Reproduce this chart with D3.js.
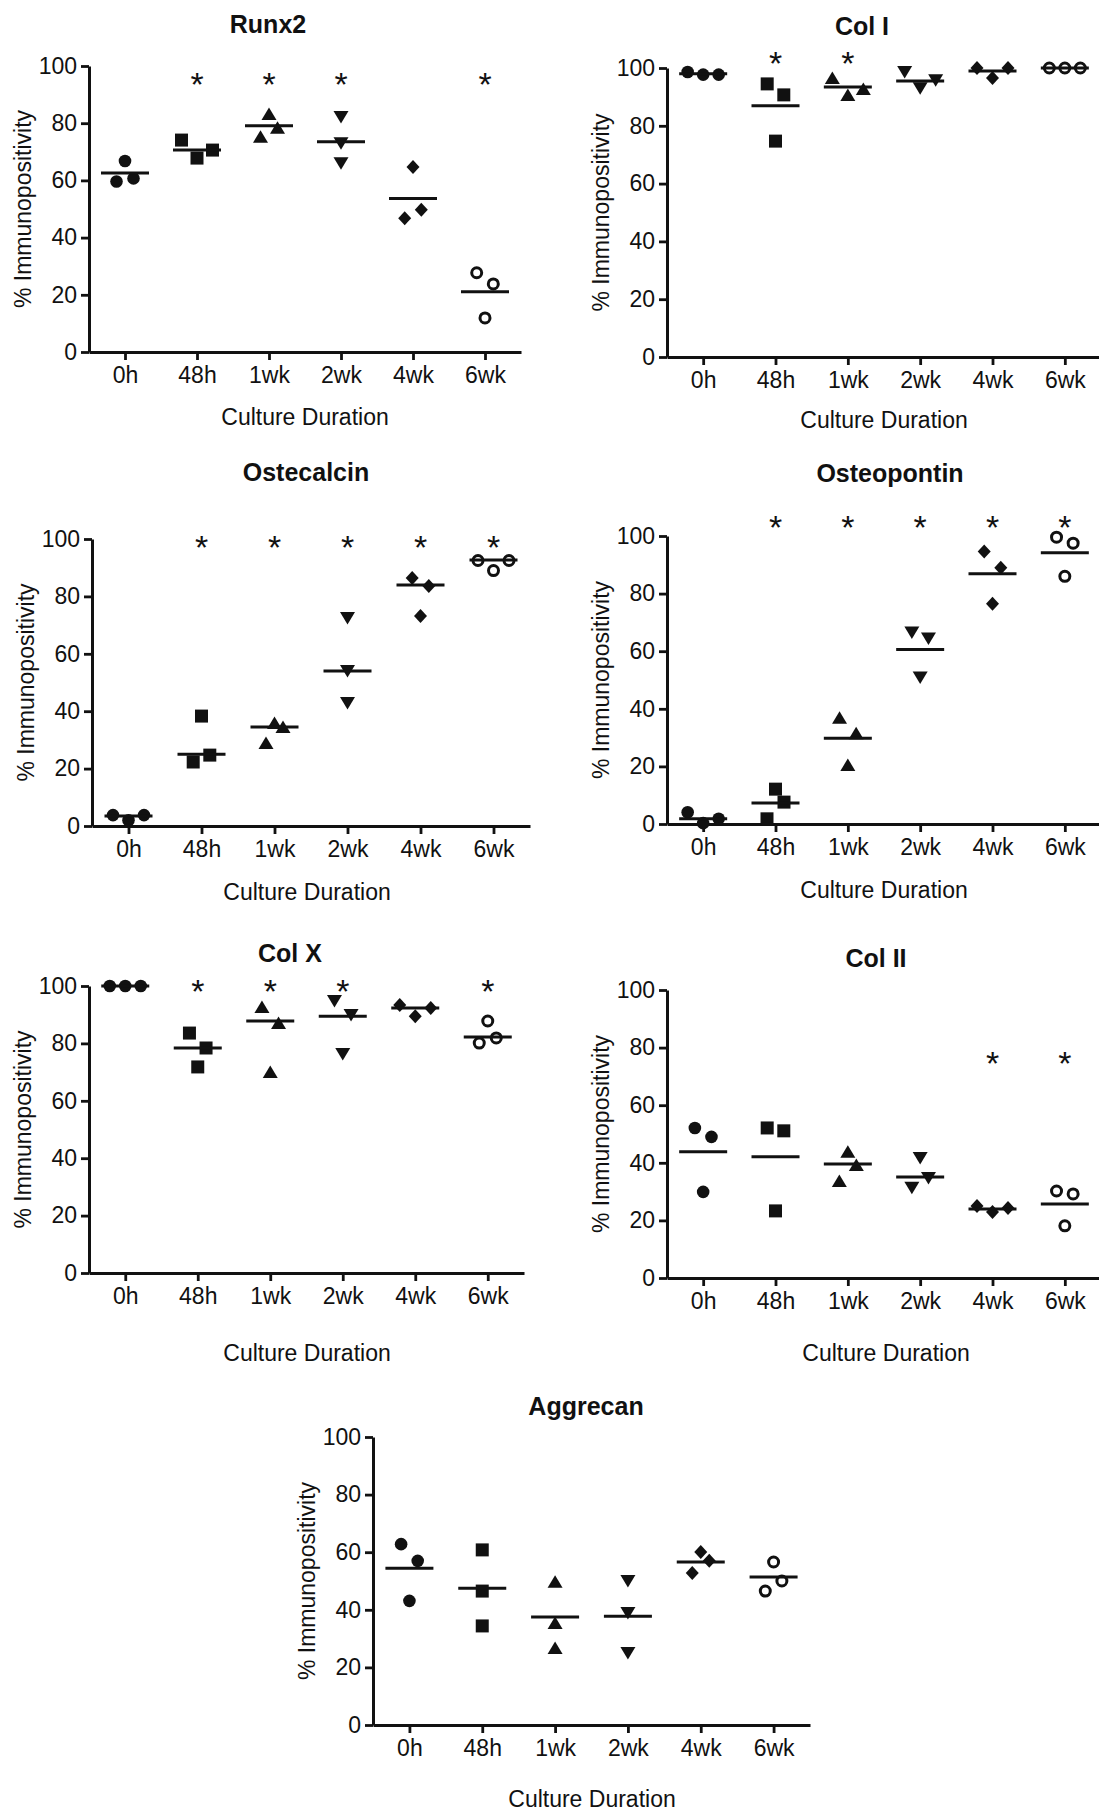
<!DOCTYPE html>
<html>
<head>
<meta charset="utf-8">
<script src="https://cdn.jsdelivr.net/npm/d3@7"></script>
<style>
  body { margin: 0; background: #fff; }
  svg text { font-family: "Liberation Sans", Arial, sans-serif; fill: #111; }
</style>
</head>
<body>
<script>
// categories and axis ticks
var groups = ["0h", "48h", "1wk", "2wk", "4wk", "6wk"];
var yTicks = [0, 20, 40, 60, 80, 100];

// values per group (three replicates each, listed left to right), line = group mean line
var runx2Values = [[59.6, 66.8, 60.7], [74.1, 67.8, 70.6], [75.3, 83.2, 78.4], [82.2, 73.0, 66.0], [46.8, 64.7, 49.7], [27.7, 11.9, 23.8]];
var runx2Lines = [62.6, 70.6, 79.1, 73.5, 53.7, 21.1];
var runx2Stars = [0, 1, 1, 1, 0, 1];

var col1Values = [[98.6, 97.7, 97.7], [94.5, 74.7, 90.7], [96.5, 90.7, 92.7], [98.6, 93.0, 95.8], [100, 96.5, 100], [100, 100, 100]];
var col1Lines = [98.0, 86.9, 93.4, 95.5, 99.0, 100];
var col1Stars = [0, 1, 1, 0, 0, 0];

var ostecalcinValues = [[3.8, 2.0, 3.8], [22.3, 38.3, 24.7], [28.9, 35.9, 34.5], [72.5, 54.0, 42.9], [86.4, 73.2, 83.6], [92.5, 89.0, 92.5]];
var ostecalcinLines = [3.5, 25.0, 34.5, 54.0, 84.0, 92.7];
var ostecalcinStars = [0, 1, 1, 1, 1, 1];

var osteopontinValues = [[4.1, 0.3, 1.8], [1.8, 12.1, 7.6], [36.9, 20.5, 31.5], [66.5, 50.9, 64.4], [94.6, 76.5, 89.0], [99.6, 86.0, 97.5]];
var osteopontinLines = [1.8, 7.3, 29.8, 60.6, 86.9, 94.2];
var osteopontinStars = [0, 1, 1, 1, 1, 1];

var colXValues = [[100, 100, 100], [83.6, 71.8, 78.4], [92.7, 70.0, 87.1], [94.8, 76.3, 89.9], [93.4, 89.5, 92.3], [80.1, 87.8, 81.9]];
var colXLines = [100, 78.4, 87.8, 89.5, 92.3, 82.2];
var colXStars = [0, 1, 1, 1, 0, 1];

var col2Values = [[52.1, 29.9, 49.0], [52.1, 23.3, 51.1], [33.7, 43.8, 39.2], [31.3, 41.7, 34.7], [25.0, 22.9, 24.3], [30.2, 18.1, 29.2]];
var col2Lines = [43.8, 42.1, 39.6, 35.1, 24.0, 25.7];
var col2Stars = [0, 0, 0, 0, 1, 1];

var aggrecanValues = [[62.8, 43.1, 57.0], [60.8, 46.5, 34.4], [49.7, 35.4, 26.7], [50.0, 38.9, 25.0], [52.8, 60.1, 57.0], [46.5, 56.6, 50.0]];
var aggrecanLines = [54.4, 47.5, 37.5, 37.8, 56.6, 51.4];
var aggrecanStars = [0, 0, 0, 0, 0, 0];

// panel placement on the page
var panels = [
  { title: "Runx2", values: runx2Values, lines: runx2Lines, stars: runx2Stars, starLevel: 96.2,
    left: 89, top: 66, bottom: 352, right: 521, titleX: 268, titleY: 33, xTitleX: 305, xTitleY: 425 },
  { title: "Col I", values: col1Values, lines: col1Lines, stars: col1Stars, starLevel: 104.5,
    left: 667, top: 68, bottom: 357, right: 1101, titleX: 862, titleY: 35, xTitleX: 884, xTitleY: 428 },
  { title: "Ostecalcin", values: ostecalcinValues, lines: ostecalcinLines, stars: ostecalcinStars, starLevel: 99.7,
    left: 92, top: 539, bottom: 826, right: 530, titleX: 306, titleY: 481, xTitleX: 307, xTitleY: 900 },
  { title: "Osteopontin", values: osteopontinValues, lines: osteopontinLines, stars: osteopontinStars, starLevel: 105.9,
    left: 667, top: 536, bottom: 824, right: 1101, titleX: 890, titleY: 482, xTitleX: 884, xTitleY: 898 },
  { title: "Col X", values: colXValues, lines: colXLines, stars: colXStars, starLevel: 101,
    left: 89, top: 986, bottom: 1273, right: 524, titleX: 290, titleY: 962, xTitleX: 307, xTitleY: 1361 },
  { title: "Col II", values: col2Values, lines: col2Lines, stars: col2Stars, starLevel: 77.4,
    left: 667, top: 990, bottom: 1278, right: 1101, titleX: 876, titleY: 967, xTitleX: 886, xTitleY: 1361 },
  { title: "Aggrecan", values: aggrecanValues, lines: aggrecanLines, stars: aggrecanStars, starLevel: 100,
    left: 373, top: 1437, bottom: 1725, right: 810, titleX: 586, titleY: 1415, xTitleX: 592, xTitleY: 1807 }
];

// one symbol per group
var symbols = ["circle", "square", "triangleUp", "triangleDown", "diamond", "openCircle"];

function symbolPath(type) {
  var p = d3.path();
  if (type === "circle") { p.arc(0, 0, 6.3, 0, 2 * Math.PI); }
  else if (type === "openCircle") { p.arc(0, 0, 5, 0, 2 * Math.PI); }
  else if (type === "square") { p.rect(-6.5, -6.5, 13, 13); }
  else if (type === "triangleUp") { p.moveTo(0, -6.5); p.lineTo(7.5, 6); p.lineTo(-7.5, 6); p.closePath(); }
  else if (type === "triangleDown") { p.moveTo(0, 6.5); p.lineTo(7.5, -6); p.lineTo(-7.5, -6); p.closePath(); }
  else if (type === "diamond") { p.moveTo(0, -7); p.lineTo(6.5, 0); p.lineTo(0, 7); p.lineTo(-6.5, 0); p.closePath(); }
  return p.toString();
}

// spread overlapping points sideways, like a scatter dot plot
var overlap = 18.7;
function spread(vals, y) {
  var off = vals.map(function() { return 0; });
  var order = d3.range(vals.length).sort(function(a, b) { return y(vals[a]) - y(vals[b]); });
  var clusters = [[order[0]]];
  for (var i = 1; i < order.length; i++) {
    if (Math.abs(y(vals[order[i]]) - y(vals[order[i - 1]])) < overlap) clusters[clusters.length - 1].push(order[i]);
    else clusters.push([order[i]]);
  }
  clusters.forEach(function(c) {
    if (c.length < 2) return;
    var ys = c.map(function(i) { return y(vals[i]); });
    var step;
    if (c.length === 2) step = 16.6;
    else step = (d3.max(ys) - d3.min(ys) < overlap) ? 15.5 : 8.5;
    c.sort(function(a, b) { return a - b; });
    c.forEach(function(idx, k) { off[idx] = (k - (c.length - 1) / 2) * step; });
  });
  return off;
}

var svg = d3.select("body").append("svg")
  .attr("width", 1099)
  .attr("height", 1811);

panels.forEach(function(pn) {
  var x = d3.scalePoint().domain(groups).range([pn.left, pn.right]).padding(0.5);
  var y = d3.scaleLinear().domain([0, 100]).range([pn.bottom, pn.top]);
  var g = svg.append("g");

  // title
  g.append("text")
    .attr("x", pn.titleX).attr("y", pn.titleY)
    .attr("text-anchor", "middle")
    .style("font-size", "25px").style("font-weight", "bold")
    .text(pn.title);

  // y axis
  var ya = g.append("g")
    .attr("transform", "translate(" + pn.left + ",0)")
    .call(d3.axisLeft(y).tickValues(yTicks).tickSize(8).tickSizeOuter(0).tickPadding(4));

  // x axis
  var xa = g.append("g")
    .attr("transform", "translate(0," + pn.bottom + ")")
    .call(d3.axisBottom(x).tickSize(8).tickSizeOuter(0).tickPadding(7));

  [ya, xa].forEach(function(a) {
    a.select(".domain").attr("stroke", "#111").attr("stroke-width", 3);
    a.selectAll(".tick line").attr("stroke", "#111").attr("stroke-width", 2.8);
    a.selectAll(".tick text").attr("fill", "#111")
      .style("font-size", "23px").style("font-family", "Liberation Sans, Arial, sans-serif");
  });

  // axis titles
  g.append("text")
    .attr("transform", "translate(" + (pn.left - 58) + "," + ((pn.top + pn.bottom) / 2) + ") rotate(-90)")
    .attr("text-anchor", "middle")
    .style("font-size", "23px")
    .text("% Immunopositivity");

  g.append("text")
    .attr("x", pn.xTitleX).attr("y", pn.xTitleY)
    .attr("text-anchor", "middle")
    .style("font-size", "23px")
    .text("Culture Duration");

  // points
  groups.forEach(function(grp, gi) {
    var vals = pn.values[gi];
    var off = spread(vals, y);
    var type = symbols[gi];
    g.selectAll(null)
      .data(vals)
      .enter().append("path")
      .attr("d", symbolPath(type))
      .attr("transform", function(d, i) { return "translate(" + (x(grp) + off[i]) + "," + y(d) + ")"; })
      .attr("fill", type === "openCircle" ? "none" : "#111")
      .attr("stroke", type === "openCircle" ? "#111" : "none")
      .attr("stroke-width", 3);
  });

  // mean lines
  g.selectAll(null)
    .data(pn.lines)
    .enter().append("line")
    .attr("x1", function(d, i) { return x(groups[i]) - 24; })
    .attr("x2", function(d, i) { return x(groups[i]) + 24; })
    .attr("y1", function(d) { return y(d); })
    .attr("y2", function(d) { return y(d); })
    .attr("stroke", "#111")
    .attr("stroke-width", 3);

  // significance stars
  var starSize = 34;
  g.selectAll(null)
    .data(groups.filter(function(d, i) { return pn.stars[i]; }))
    .enter().append("text")
    .attr("x", function(d) { return x(d); })
    .attr("y", y(pn.starLevel) + 0.575 * starSize)
    .attr("text-anchor", "middle")
    .style("font-size", starSize + "px")
    .text("*");
});
</script>
</body>
</html>
